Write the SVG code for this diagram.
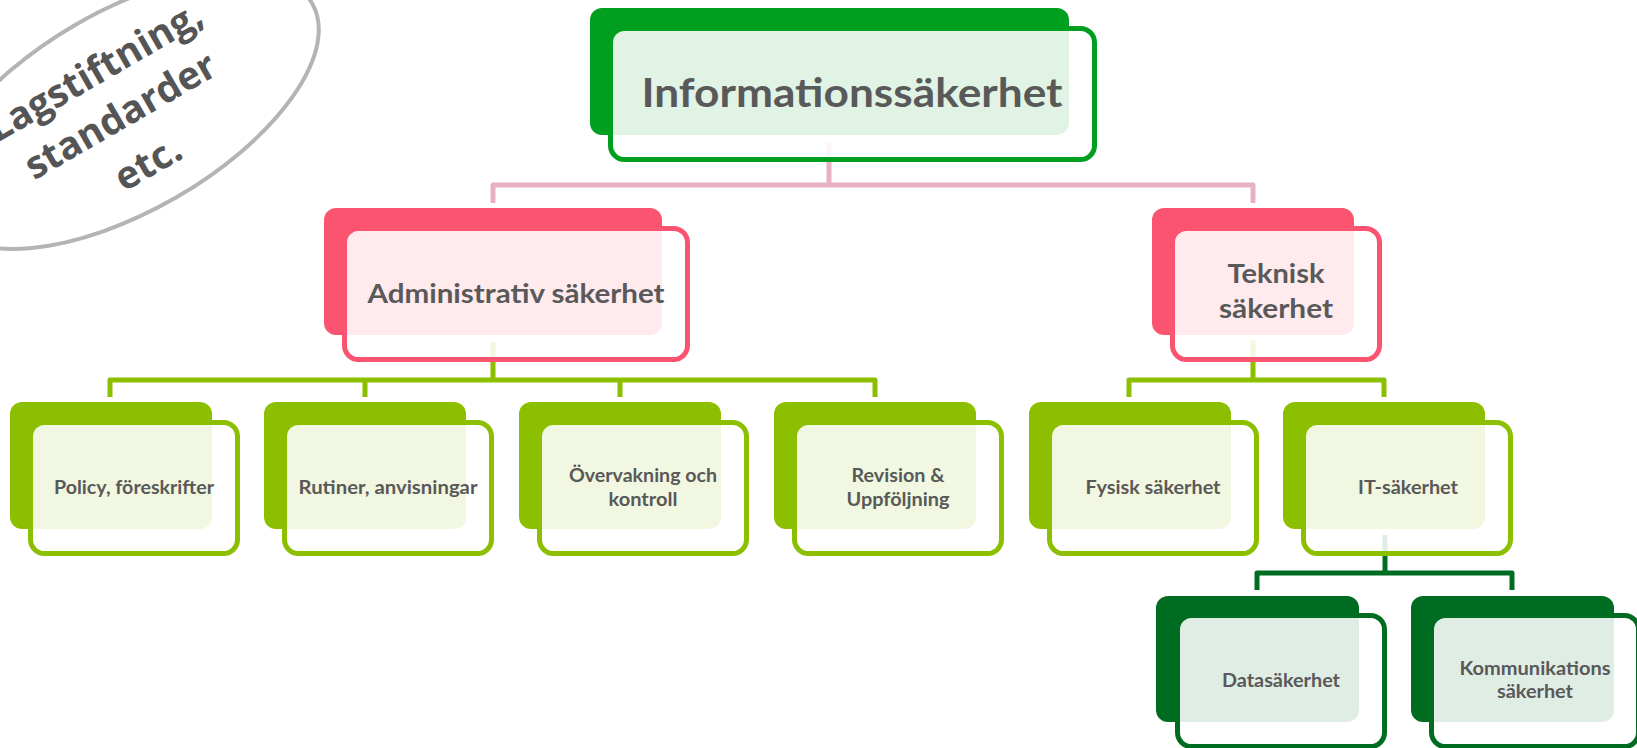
<svg xmlns="http://www.w3.org/2000/svg" width="1637" height="748" viewBox="0 0 1637 748">
<style>
.t{font-family:Lato,"Open Sans","Liberation Sans",sans-serif;font-weight:bold;fill:#595959;text-anchor:middle}
.fr{fill:#ffffff;fill-opacity:0.88;stroke-width:5}
.c{fill:none;stroke-width:5;stroke-linejoin:round}
</style>
<rect width="1637" height="748" fill="#ffffff"/>
<g id="note">
<ellipse cx="126" cy="111" rx="215" ry="100" transform="rotate(-30 126 111)" fill="#ffffff" stroke="#b4b4b4" stroke-width="4"/>
<g transform="translate(127,127) rotate(-30)" font-family="'Open Sans',Lato,sans-serif" font-weight="bold" font-size="38.5" fill="#555555" text-anchor="middle">
<text x="0" y="-51">Lagstiftning,</text>
<text x="0" y="0">standarder</text>
<text x="0" y="55">etc.</text>
</g>
</g>
<g id="connectors">
<path class="c" stroke="#e8b1c3" d="M829,142 V185 H493 V203 M829,185 H1253 V203"/>
<path class="c" stroke="#8cbf00" d="M493,342 V380 H110 V397 M365,380 V397 M620,380 V397 M493,380 H875 V397"/>
<path class="c" stroke="#8cbf00" d="M1253,340 V380 H1129 V397 M1253,380 H1384 V397"/>
<path class="c" stroke="#006c22" d="M1385,535 V573 H1257 V590 M1385,573 H1512 V590"/>
</g>
<g id="n-root">
<rect x="590" y="8" width="479" height="127" rx="12" fill="#009f20"/>
<rect class="fr" x="610.5" y="28.5" width="484" height="131" rx="14" stroke="#009f20"/>
<text class="t" x="852" y="107" font-size="41" textLength="421" lengthAdjust="spacingAndGlyphs">Informationssäkerhet</text>
</g>
<g id="n-admin">
<rect x="324" y="208" width="338" height="127" rx="12" fill="#fa5470"/>
<rect class="fr" x="344.5" y="228.5" width="343" height="131" rx="14" stroke="#fa5470"/>
<text class="t" x="516" y="303" font-size="27" textLength="297" lengthAdjust="spacingAndGlyphs">Administrativ säkerhet</text>
</g>
<g id="n-teknisk">
<rect x="1152" y="208" width="202" height="127" rx="12" fill="#fa5470"/>
<rect class="fr" x="1172.5" y="228.5" width="207" height="131" rx="14" stroke="#fa5470"/>
<text class="t" x="1276" y="283" font-size="27" textLength="97" lengthAdjust="spacingAndGlyphs">Teknisk</text>
<text class="t" x="1276" y="318" font-size="27" textLength="114" lengthAdjust="spacingAndGlyphs">säkerhet</text>
</g>
<g id="n-policy">
<rect x="10" y="402" width="202" height="127" rx="12" fill="#8cbf00"/>
<rect class="fr" x="30.5" y="422.5" width="207" height="131" rx="14" stroke="#8cbf00"/>
<text class="t" x="134" y="494" font-size="19.5" textLength="160" lengthAdjust="spacingAndGlyphs">Policy, föreskrifter</text>
</g>
<g id="n-rutiner">
<rect x="264" y="402" width="202" height="127" rx="12" fill="#8cbf00"/>
<rect class="fr" x="284.5" y="422.5" width="207" height="131" rx="14" stroke="#8cbf00"/>
<text class="t" x="388" y="494" font-size="19.5" textLength="179" lengthAdjust="spacingAndGlyphs">Rutiner, anvisningar</text>
</g>
<g id="n-overvakning">
<rect x="519" y="402" width="202" height="127" rx="12" fill="#8cbf00"/>
<rect class="fr" x="539.5" y="422.5" width="207" height="131" rx="14" stroke="#8cbf00"/>
<text class="t" x="643" y="482" font-size="19.5" textLength="148" lengthAdjust="spacingAndGlyphs">Övervakning och</text>
<text class="t" x="643" y="506" font-size="19.5" textLength="69" lengthAdjust="spacingAndGlyphs">kontroll</text>
</g>
<g id="n-revision">
<rect x="774" y="402" width="202" height="127" rx="12" fill="#8cbf00"/>
<rect class="fr" x="794.5" y="422.5" width="207" height="131" rx="14" stroke="#8cbf00"/>
<text class="t" x="898" y="482" font-size="19.5" textLength="93" lengthAdjust="spacingAndGlyphs">Revision &amp;</text>
<text class="t" x="898" y="506" font-size="19.5" textLength="103" lengthAdjust="spacingAndGlyphs">Uppföljning</text>
</g>
<g id="n-fysisk">
<rect x="1029" y="402" width="202" height="127" rx="12" fill="#8cbf00"/>
<rect class="fr" x="1049.5" y="422.5" width="207" height="131" rx="14" stroke="#8cbf00"/>
<text class="t" x="1153" y="494" font-size="19.5" textLength="135" lengthAdjust="spacingAndGlyphs">Fysisk säkerhet</text>
</g>
<g id="n-it">
<rect x="1283" y="402" width="202" height="127" rx="12" fill="#8cbf00"/>
<rect class="fr" x="1303.5" y="422.5" width="207" height="131" rx="14" stroke="#8cbf00"/>
<text class="t" x="1408" y="494" font-size="19.5" textLength="100" lengthAdjust="spacingAndGlyphs">IT-säkerhet</text>
</g>
<g id="n-data">
<rect x="1156" y="596" width="203" height="126" rx="12" fill="#006c22"/>
<rect class="fr" x="1177.5" y="615.5" width="207" height="131" rx="14" stroke="#006c22"/>
<text class="t" x="1281" y="687" font-size="19.5" textLength="118" lengthAdjust="spacingAndGlyphs">Datasäkerhet</text>
</g>
<g id="n-komm">
<rect x="1411" y="596" width="203" height="126" rx="12" fill="#006c22"/>
<rect class="fr" x="1431.5" y="615.5" width="207" height="131" rx="14" stroke="#006c22"/>
<text class="t" x="1535" y="675" font-size="19.5" textLength="151" lengthAdjust="spacingAndGlyphs">Kommunikations</text>
<text class="t" x="1535" y="698" font-size="19.5" textLength="76" lengthAdjust="spacingAndGlyphs">säkerhet</text>
</g>
</svg>
